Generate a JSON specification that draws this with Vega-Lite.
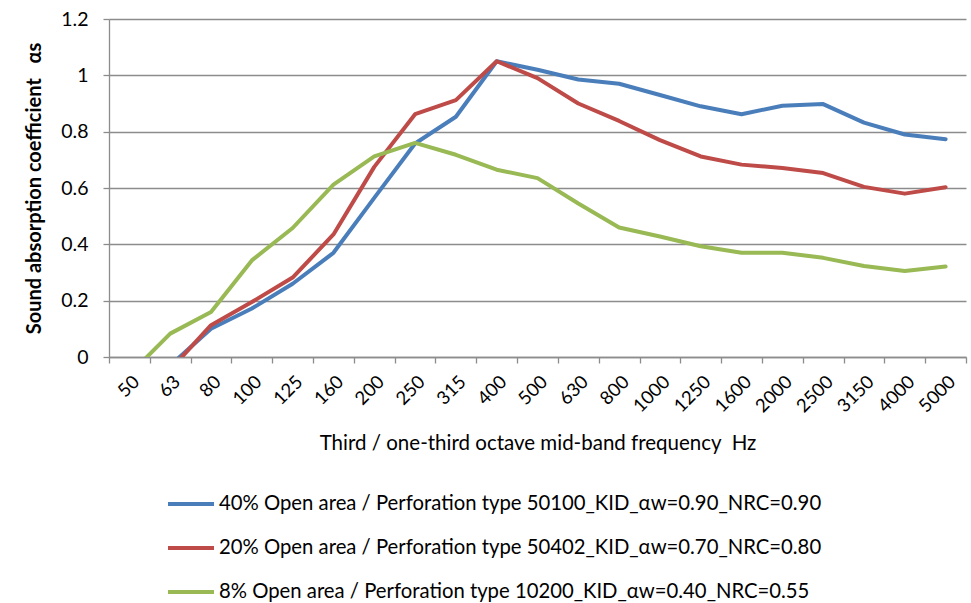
{
  "$schema": "https://vega.github.io/schema/vega-lite/v6.json",
  "width": 857,
  "height": 338,
  "autosize": {"type": "none"},
  "padding": {"left": 109, "top": 19, "right": 5, "bottom": 246},
  "background": "white",
  "config": {"view": {"stroke": null}, "font": "Lato"},
  "data": {
    "values": [
      {"series": "40% Open area / Perforation type 50100_KID_αw=0.90_NRC=0.90", "freq": "63", "value": -0.03},
      {"series": "40% Open area / Perforation type 50100_KID_αw=0.90_NRC=0.90", "freq": "80", "value": 0.10},
      {"series": "40% Open area / Perforation type 50100_KID_αw=0.90_NRC=0.90", "freq": "100", "value": 0.172},
      {"series": "40% Open area / Perforation type 50100_KID_αw=0.90_NRC=0.90", "freq": "125", "value": 0.26},
      {"series": "40% Open area / Perforation type 50100_KID_αw=0.90_NRC=0.90", "freq": "160", "value": 0.37},
      {"series": "40% Open area / Perforation type 50100_KID_αw=0.90_NRC=0.90", "freq": "200", "value": 0.565},
      {"series": "40% Open area / Perforation type 50100_KID_αw=0.90_NRC=0.90", "freq": "250", "value": 0.758},
      {"series": "40% Open area / Perforation type 50100_KID_αw=0.90_NRC=0.90", "freq": "315", "value": 0.853},
      {"series": "40% Open area / Perforation type 50100_KID_αw=0.90_NRC=0.90", "freq": "400", "value": 1.05},
      {"series": "40% Open area / Perforation type 50100_KID_αw=0.90_NRC=0.90", "freq": "500", "value": 1.02},
      {"series": "40% Open area / Perforation type 50100_KID_αw=0.90_NRC=0.90", "freq": "630", "value": 0.985},
      {"series": "40% Open area / Perforation type 50100_KID_αw=0.90_NRC=0.90", "freq": "800", "value": 0.97},
      {"series": "40% Open area / Perforation type 50100_KID_αw=0.90_NRC=0.90", "freq": "1000", "value": 0.93},
      {"series": "40% Open area / Perforation type 50100_KID_αw=0.90_NRC=0.90", "freq": "1250", "value": 0.89},
      {"series": "40% Open area / Perforation type 50100_KID_αw=0.90_NRC=0.90", "freq": "1600", "value": 0.862},
      {"series": "40% Open area / Perforation type 50100_KID_αw=0.90_NRC=0.90", "freq": "2000", "value": 0.892},
      {"series": "40% Open area / Perforation type 50100_KID_αw=0.90_NRC=0.90", "freq": "2500", "value": 0.898},
      {"series": "40% Open area / Perforation type 50100_KID_αw=0.90_NRC=0.90", "freq": "3150", "value": 0.832},
      {"series": "40% Open area / Perforation type 50100_KID_αw=0.90_NRC=0.90", "freq": "4000", "value": 0.79},
      {"series": "40% Open area / Perforation type 50100_KID_αw=0.90_NRC=0.90", "freq": "5000", "value": 0.773},
      {"series": "20% Open area / Perforation type 50402_KID_αw=0.70_NRC=0.80", "freq": "63", "value": -0.045},
      {"series": "20% Open area / Perforation type 50402_KID_αw=0.70_NRC=0.80", "freq": "80", "value": 0.113},
      {"series": "20% Open area / Perforation type 50402_KID_αw=0.70_NRC=0.80", "freq": "100", "value": 0.195},
      {"series": "20% Open area / Perforation type 50402_KID_αw=0.70_NRC=0.80", "freq": "125", "value": 0.282},
      {"series": "20% Open area / Perforation type 50402_KID_αw=0.70_NRC=0.80", "freq": "160", "value": 0.435},
      {"series": "20% Open area / Perforation type 50402_KID_αw=0.70_NRC=0.80", "freq": "200", "value": 0.675},
      {"series": "20% Open area / Perforation type 50402_KID_αw=0.70_NRC=0.80", "freq": "250", "value": 0.862},
      {"series": "20% Open area / Perforation type 50402_KID_αw=0.70_NRC=0.80", "freq": "315", "value": 0.912},
      {"series": "20% Open area / Perforation type 50402_KID_αw=0.70_NRC=0.80", "freq": "400", "value": 1.05},
      {"series": "20% Open area / Perforation type 50402_KID_αw=0.70_NRC=0.80", "freq": "500", "value": 0.99},
      {"series": "20% Open area / Perforation type 50402_KID_αw=0.70_NRC=0.80", "freq": "630", "value": 0.90},
      {"series": "20% Open area / Perforation type 50402_KID_αw=0.70_NRC=0.80", "freq": "800", "value": 0.838},
      {"series": "20% Open area / Perforation type 50402_KID_αw=0.70_NRC=0.80", "freq": "1000", "value": 0.77},
      {"series": "20% Open area / Perforation type 50402_KID_αw=0.70_NRC=0.80", "freq": "1250", "value": 0.712},
      {"series": "20% Open area / Perforation type 50402_KID_αw=0.70_NRC=0.80", "freq": "1600", "value": 0.683},
      {"series": "20% Open area / Perforation type 50402_KID_αw=0.70_NRC=0.80", "freq": "2000", "value": 0.671},
      {"series": "20% Open area / Perforation type 50402_KID_αw=0.70_NRC=0.80", "freq": "2500", "value": 0.653},
      {"series": "20% Open area / Perforation type 50402_KID_αw=0.70_NRC=0.80", "freq": "3150", "value": 0.604},
      {"series": "20% Open area / Perforation type 50402_KID_αw=0.70_NRC=0.80", "freq": "4000", "value": 0.58},
      {"series": "20% Open area / Perforation type 50402_KID_αw=0.70_NRC=0.80", "freq": "5000", "value": 0.603},
      {"series": "8% Open area / Perforation type 10200_KID_αw=0.40_NRC=0.55", "freq": "50", "value": -0.062},
      {"series": "8% Open area / Perforation type 10200_KID_αw=0.40_NRC=0.55", "freq": "63", "value": 0.083},
      {"series": "8% Open area / Perforation type 10200_KID_αw=0.40_NRC=0.55", "freq": "80", "value": 0.16},
      {"series": "8% Open area / Perforation type 10200_KID_αw=0.40_NRC=0.55", "freq": "100", "value": 0.343},
      {"series": "8% Open area / Perforation type 10200_KID_αw=0.40_NRC=0.55", "freq": "125", "value": 0.458},
      {"series": "8% Open area / Perforation type 10200_KID_αw=0.40_NRC=0.55", "freq": "160", "value": 0.612},
      {"series": "8% Open area / Perforation type 10200_KID_αw=0.40_NRC=0.55", "freq": "200", "value": 0.712},
      {"series": "8% Open area / Perforation type 10200_KID_αw=0.40_NRC=0.55", "freq": "250", "value": 0.76},
      {"series": "8% Open area / Perforation type 10200_KID_αw=0.40_NRC=0.55", "freq": "315", "value": 0.718},
      {"series": "8% Open area / Perforation type 10200_KID_αw=0.40_NRC=0.55", "freq": "400", "value": 0.665},
      {"series": "8% Open area / Perforation type 10200_KID_αw=0.40_NRC=0.55", "freq": "500", "value": 0.635},
      {"series": "8% Open area / Perforation type 10200_KID_αw=0.40_NRC=0.55", "freq": "630", "value": 0.545},
      {"series": "8% Open area / Perforation type 10200_KID_αw=0.40_NRC=0.55", "freq": "800", "value": 0.46},
      {"series": "8% Open area / Perforation type 10200_KID_αw=0.40_NRC=0.55", "freq": "1000", "value": 0.428},
      {"series": "8% Open area / Perforation type 10200_KID_αw=0.40_NRC=0.55", "freq": "1250", "value": 0.393},
      {"series": "8% Open area / Perforation type 10200_KID_αw=0.40_NRC=0.55", "freq": "1600", "value": 0.37},
      {"series": "8% Open area / Perforation type 10200_KID_αw=0.40_NRC=0.55", "freq": "2000", "value": 0.37},
      {"series": "8% Open area / Perforation type 10200_KID_αw=0.40_NRC=0.55", "freq": "2500", "value": 0.352},
      {"series": "8% Open area / Perforation type 10200_KID_αw=0.40_NRC=0.55", "freq": "3150", "value": 0.323},
      {"series": "8% Open area / Perforation type 10200_KID_αw=0.40_NRC=0.55", "freq": "4000", "value": 0.305},
      {"series": "8% Open area / Perforation type 10200_KID_αw=0.40_NRC=0.55", "freq": "5000", "value": 0.321}
    ]
  },
  "mark": {"type": "line", "strokeWidth": 4, "clip": true, "strokeJoin": "round", "strokeCap": "round"},
  "encoding": {
    "x": {
      "field": "freq",
      "type": "ordinal",
      "sort": ["50", "63", "80", "100", "125", "160", "200", "250", "315", "400", "500", "630", "800", "1000", "1250", "1600", "2000", "2500", "3150", "4000", "5000"],
      "scale": {"type": "band", "paddingInner": 0, "paddingOuter": 0},
      "axis": {
        "title": "Third / one-third octave mid-band frequency\u00a0\u00a0Hz",
        "titleFontSize": 20.5,
        "titleFontWeight": "normal",
        "titleColor": "#000000",
        "titlePadding": 18,
        "labelAngle": -45,
        "labelFontSize": 18.5,
        "labelColor": "#000000",
        "labelPadding": 9,
        "tickBand": "extent",
        "tickSize": 6,
        "tickColor": "#8c8c8c",
        "tickWidth": 1.3,
        "domainColor": "#8c8c8c",
        "domainWidth": 1.3,
        "grid": false
      }
    },
    "y": {
      "field": "value",
      "type": "quantitative",
      "scale": {"domain": [0, 1.2], "nice": false},
      "axis": {
        "title": "Sound absorption coefficient\u00a0\u00a0\u00a0αs",
        "titleFontSize": 20,
        "titleFontWeight": "bold",
        "titleColor": "#000000",
        "titlePadding": 16,
        "values": [0, 0.2, 0.4, 0.6, 0.8, 1, 1.2],
        "format": ".1~f",
        "labelFontSize": 19.5,
        "labelColor": "#000000",
        "labelPadding": 15,
        "tickSize": 6,
        "tickColor": "#8c8c8c",
        "tickWidth": 1.3,
        "domainColor": "#8c8c8c",
        "domainWidth": 1.3,
        "gridColor": "#8c8c8c",
        "gridWidth": 1.3
      }
    },
    "color": {
      "field": "series",
      "type": "nominal",
      "sort": null,
      "scale": {
        "domain": ["40% Open area / Perforation type 50100_KID_αw=0.90_NRC=0.90", "20% Open area / Perforation type 50402_KID_αw=0.70_NRC=0.80", "8% Open area / Perforation type 10200_KID_αw=0.40_NRC=0.55"],
        "range": ["#4a7ebb", "#be4b48", "#98b954"]
      },
      "legend": {
        "title": null,
        "orient": "none",
        "legendX": 57,
        "legendY": 460,
        "direction": "vertical",
        "symbolType": "stroke",
        "symbolSize": 2116,
        "symbolStrokeWidth": 4,
        "labelFontSize": 20.3,
        "labelColor": "#000000",
        "labelOffset": 3,
        "labelLimit": 900,
        "rowPadding": 8,
        "padding": 0
      }
    }
  }
}
